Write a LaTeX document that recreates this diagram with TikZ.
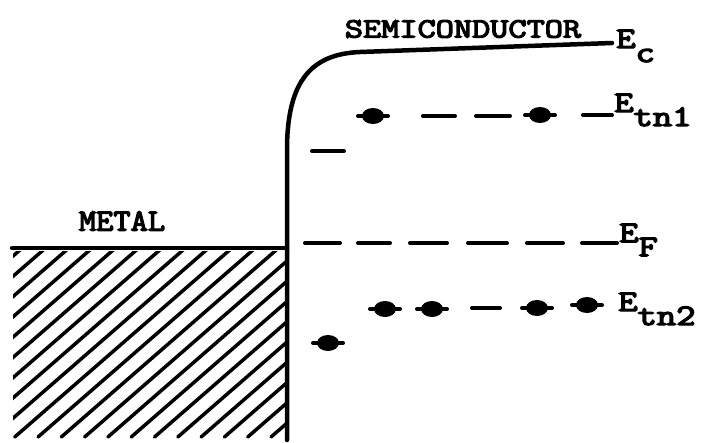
\documentclass[tikz,border=0pt]{standalone}
\usepackage{fontspec}
\newfontfamily\twfont{Latin Modern Mono}[FakeBold=4]
\usetikzlibrary{calc}
\tikzset{
  band/.style={line width=4.5pt, line cap=round, line join=round},
  lvl/.style={line width=4pt, line cap=round},
  hatch/.style={line width=3.5pt, line cap=round},
  txt/.style={font=\fontsize{28}{28}\selectfont\twfont, inner sep=0pt},
  lbltxt/.style={font=\fontsize{30}{30}\selectfont\twfont, inner sep=0pt, xscale=1.25},
  trap/.pic={\fill (0,0) ellipse (11 and 8); \draw[lvl] (-15,0) -- (15,0);}
}
\newcommand{\sublbl}[2]{#1\raisebox{-14pt}{#2}}
\begin{document}
\begin{tikzpicture}[x=1pt,y=-1pt]
\useasboundingbox (0,0) rectangle (703,442);
% hatching of the metal
\begin{scope}
  \clip (13,251) rectangle (287,438);
  \foreach \k in {-10,...,12}{
    \draw[hatch] ({38+23.3*\k},437) -- ++(300,-261);
  }
\end{scope}
% metal Fermi level and interface
\coordinate (m0) at (12,248);
\coordinate (m1) at (287,248);
\coordinate (bot) at (287,440);
\draw[band] (m0) -- (m1);
% conduction band edge
\coordinate (cstart) at (287,150);
\coordinate (cknee) at (360,52);
\coordinate (cend) at (612,43);
\draw[band] (bot) -- (cstart) .. controls (287,80) and (312,54) .. (cknee) -- (cend);
% texts
\node[txt, font=\fontsize{31}{31}\selectfont\twfont, xscale=1.08] (metal) at (122,221) {METAL};
\node[txt, xscale=1.26] (semi) at (463,29) {SEMICONDUCTOR};
\node[lbltxt, anchor=west] (ec) at (616,46) {\sublbl{E}{c}};
\node[lbltxt, anchor=west] (etn1) at (614,110) {\sublbl{E}{tn1}};
\node[lbltxt, anchor=west] (ef) at (619,240) {\sublbl{E}{F}};
\node[lbltxt, anchor=west] (etn2) at (618,309) {\sublbl{E}{tn2}};
% E_tn1 level
\pic (t1) at (373,116) {trap};
\pic (t2) at (540,115) {trap};
\draw[lvl] (423,116) -- (455,116);
\draw[lvl] (476,116) -- (510,116);
\draw[lvl] (583,115) -- (612,115);
% short dash
\draw[lvl] (312,151) -- (344,151);
% E_F level
\foreach \a/\b in {305/340,358/390,410/447,468/507,527/563,582/617}{
  \draw[lvl] (\a,243) -- (\b,243);
}
% E_tn2 level
\pic (t3) at (385,309) {trap};
\pic (t4) at (432,309) {trap};
\draw[lvl] (472,308) -- (500,308);
\pic (t5) at (537,308) {trap};
\pic (t6) at (587,305) {trap};
\pic (t7) at (328,343) {trap};
\end{tikzpicture}
\end{document}
